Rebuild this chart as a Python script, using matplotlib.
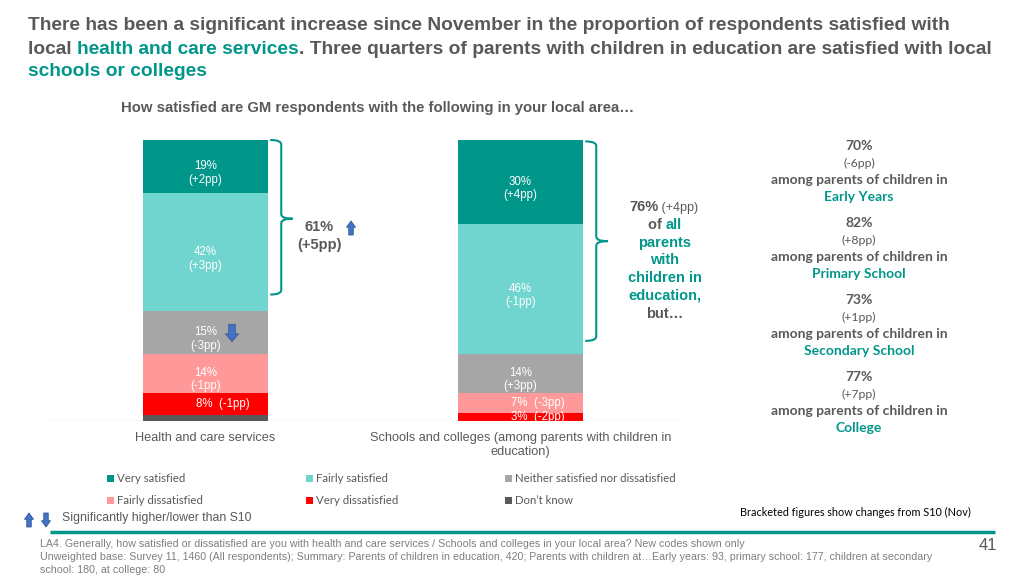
import matplotlib
matplotlib.use("Agg")
import matplotlib.pyplot as plt
import numpy as np
from matplotlib.patches import PathPatch, Polygon, Rectangle
from matplotlib.path import Path

# ---- data -----------------------------------------------------------------
categories = [
    "Health and care services",
    "Schools and colleges (among parents with children in\neducation)",
]
responses = [
    "Very satisfied",
    "Fairly satisfied",
    "Neither satisfied nor dissatisfied",
    "Fairly dissatisfied",
    "Very dissatisfied",
    "Don\u2019t know",
]
very_satisfied = [19, 30]
fairly_satisfied = [42, 46]
neither = [15, 14]
fairly_dissatisfied = [14, 7]
very_dissatisfied = [8, 3]
dont_know = [2, 0]

very_satisfied_change = ["+2pp", "+4pp"]
fairly_satisfied_change = ["+3pp", "-1pp"]
neither_change = ["-3pp", "+3pp"]
fairly_dissatisfied_change = ["-1pp", "-3pp"]
very_dissatisfied_change = ["-1pp", "-2pp"]

satisfied_total = [61, 76]
satisfied_total_change = ["+5pp", "+4pp"]

sub_groups = ["Early Years", "Primary School", "Secondary School", "College"]
sub_group_satisfied = [70, 82, 73, 77]
sub_group_change = ["-6pp", "+8pp", "+1pp", "+7pp"]

# ---- style ----------------------------------------------------------------
GREY = "#595959"
TEAL = "#00968A"
BLUE = "#4472C4"
colors = ["#00968A", "#70D5CF", "#A6A6A6", "#FF9999", "#FF0000", "#595959"]

ARIAL = "Liberation Sans"
CALIBRI = ["Lato", "DejaVu Sans"]

plt.rcParams["font.family"] = [ARIAL, "DejaVu Sans"]

fig = plt.figure(figsize=(10.24, 5.76), dpi=100)

# overlay in pixel coordinates for the slide furniture
ov = fig.add_axes([0, 0, 1, 1])
ov.set_xlim(0, 1024)
ov.set_ylim(576, 0)
ov.axis("off")
ov.set_zorder(5)


def rainbow(ax, x, y, parts):
    """Write consecutive pieces of text with their own colour / weight."""
    s, c, kw = parts[0]
    t = ax.text(x, y, s, color=c, va="center", **kw)
    for s, c, kw in parts[1:]:
        t = ax.annotate(s, xy=(1, 0), xycoords=t, va="bottom", color=c, **kw)
    return t


def block_arrow(ax, cx, cy, w, h, up=True):
    """Blue block arrow centred on (cx, cy) in pixel coordinates."""
    d = -1 if up else 1
    tip = cy + d * h / 2
    base = cy - d * h / 2
    neck = tip - d * h * 0.45
    sw = w * 0.5
    pts = [
        (cx, tip), (cx + w / 2, neck), (cx + sw / 2, neck), (cx + sw / 2, base),
        (cx - sw / 2, base), (cx - sw / 2, neck), (cx - w / 2, neck),
    ]
    ax.add_patch(Polygon(pts, closed=True, facecolor=BLUE, edgecolor="#2F5597", lw=0.6, zorder=5))


# ---- title ----------------------------------------------------------------
tkw = dict(fontweight="bold", fontsize=13.8)
ov.text(28, 25, "There has been a significant increase since November in the proportion of "
        "respondents satisfied with", color=GREY, va="center", **tkw)
rainbow(ov, 28, 49, [
    ("local ", GREY, tkw),
    ("health and care services", TEAL, tkw),
    (". Three quarters of parents with children in education are satisfied with local", GREY, tkw),
])
ov.text(28, 72, "schools or colleges", color=TEAL, va="center", **tkw)
ov.text(121, 108, "How satisfied are GM respondents with the following in your local area\u2026",
        color=GREY, va="center", fontweight="bold", fontsize=10.7)

# ---- stacked bars ---------------------------------------------------------
ax = fig.add_axes([48 / 1024, (576 - 421) / 576, 630 / 1024, 281 / 576])
ax.set_xlim(-0.5, 1.5)
ax.set_ylim(0, 100)
x = np.arange(len(categories))
width = 0.397

stack = [
    (dont_know, None, colors[5]),
    (very_dissatisfied, very_dissatisfied_change, colors[4]),
    (fairly_dissatisfied, fairly_dissatisfied_change, colors[3]),
    (neither, neither_change, colors[2]),
    (fairly_satisfied, fairly_satisfied_change, colors[1]),
    (very_satisfied, very_satisfied_change, colors[0]),
]
bottom = np.zeros(len(categories))
for values, changes, color in stack:
    values = np.asarray(values, dtype=float)
    ax.bar(x, values, width=width, bottom=bottom, color=color, zorder=2)
    if changes is not None:
        for i, (v, ch) in enumerate(zip(values, changes)):
            yc = bottom[i] + v / 2
            if v < 10:
                ax.text(x[i] + 0.055, yc, f"{v:.0f}%  ({ch})", color="white",
                        ha="center", va="center", fontsize=8.3)
            else:
                # two-line labels sit a little below the segment centre
                ax.text(x[i], yc - 2.3, f"{v:.0f}%\n({ch})", color="white", ha="center",
                        va="center", fontsize=8.3, linespacing=1.15)
    bottom += values

ax.axhline(0, color="#D9D9D9", lw=1, zorder=1)
for side in ax.spines.values():
    side.set_visible(False)
ax.set_yticks([])
ax.set_xticks(x, categories)
ax.tick_params(axis="x", length=0, pad=8, labelsize=9.2, labelcolor=GREY)


def brace(ax, edge, top, mid, low):
    """Curly bracket to the right of a bar, in data coordinates."""
    x0, x1, x2 = edge + 0.007, edge + 0.042, edge + 0.078
    r = 1.6
    verts = [
        (x0, top), (x1, top), (x1, top - r),
        (x1, mid + r),
        (x1, mid), (x2, mid),
        (x1, mid), (x1, mid - r),
        (x1, low + r),
        (x1, low), (x0, low),
    ]
    codes = [
        Path.MOVETO, Path.CURVE3, Path.CURVE3,
        Path.LINETO,
        Path.CURVE3, Path.CURVE3,
        Path.CURVE3, Path.CURVE3,
        Path.LINETO,
        Path.CURVE3, Path.CURVE3,
    ]
    ax.add_patch(PathPatch(Path(verts, codes), facecolor="none", edgecolor=TEAL,
                           lw=1.5, clip_on=False, zorder=3))


brace(ax, x[0] + width / 2, 100, 72, 45)
brace(ax, x[1] + width / 2, 99.5, 64, 28.5)

# ---- annotations around the bars -------------------------------------------
bkw = dict(fontweight="bold", fontsize=10.5)
ov.text(319, 227, f"{satisfied_total[0]}%", color=GREY, ha="center", va="center", **bkw)
ov.text(320, 245, f"({satisfied_total_change[0]})", color=GREY, ha="center", va="center", **bkw)
block_arrow(ov, 351, 228, 9, 14, up=True)
block_arrow(ov, 232, 333, 13, 17, up=False)

rainbow(ov, 629, 207, [
    (f"{satisfied_total[1]}%", GREY, bkw),
    (f" ({satisfied_total_change[1]})", GREY, dict(fontsize=9)),
])
rainbow(ov, 648, 225, [("of ", GREY, bkw), ("all", TEAL, bkw)])
for yy, line in zip([243, 260, 278, 296], ["parents", "with", "children in", "education,"]):
    ov.text(665, yy, line, color=TEAL, ha="center", va="center", **bkw)
ov.text(665, 314, "but\u2026", color=GREY, ha="center", va="center", **bkw)

# ---- sub-group panel --------------------------------------------------------
ckw = dict(fontfamily=CALIBRI, ha="center", va="center")
for k, (grp, val, ch) in enumerate(zip(sub_groups, sub_group_satisfied, sub_group_change)):
    y0 = 146 + k * 77
    ov.text(859, y0, f"{val}%", color=GREY, fontweight="bold", fontsize=10, **ckw)
    ov.text(859, y0 + 17, f"({ch})", color=GREY, fontsize=8.8, **ckw)
    ov.text(859, y0 + 34, "among parents of children in", color=GREY, fontweight="bold",
            fontsize=10, **ckw)
    ov.text(859, y0 + 51, grp, color=TEAL, fontweight="bold", fontsize=10, **ckw)

# ---- legend -----------------------------------------------------------------
for n, label in enumerate(responses):
    lx = 110 + (n % 3) * 199
    ly = 478 + (n // 3) * 22
    ov.add_patch(Rectangle((lx - 3.5, ly - 3.5), 7, 7, facecolor=colors[n], edgecolor="none"))
    ov.text(lx + 7, ly, label, color=GREY, va="center", fontfamily=CALIBRI, fontsize=8.2)

block_arrow(ov, 29, 520, 9, 14, up=True)
block_arrow(ov, 46, 520, 9, 14, up=False)
ov.text(62, 518, "Significantly higher/lower than S10", color=GREY, va="center",
        fontsize=8.8)
ov.text(740, 512, "Bracketed figures show changes from S10 (Nov)", color="black",
        va="center", fontfamily=CALIBRI, fontsize=7.8)

# ---- footer -----------------------------------------------------------------
ov.plot([50, 995], [532, 532], color=TEAL, lw=2.5, solid_capstyle="butt")
fkw = dict(color="#7F7F7F", va="center", fontsize=7.65)
ov.text(40, 544, "LA4. Generally, how satisfied or dissatisfied are you with health and care "
        "services / Schools and colleges in your local area? New codes shown only", **fkw)
ov.text(40, 557, "Unweighted base: Survey 11, 1460 (All respondents); Summary: Parents of "
        "children in education, 420; Parents with children at\u2026Early years: 93, primary "
        "school: 177, children at secondary", **fkw)
ov.text(40, 570, "school: 180, at college: 80", **fkw)
ov.text(988, 546, "41", color=GREY, ha="center", va="center", fontsize=12)

fig.savefig("out.png", dpi=100)
